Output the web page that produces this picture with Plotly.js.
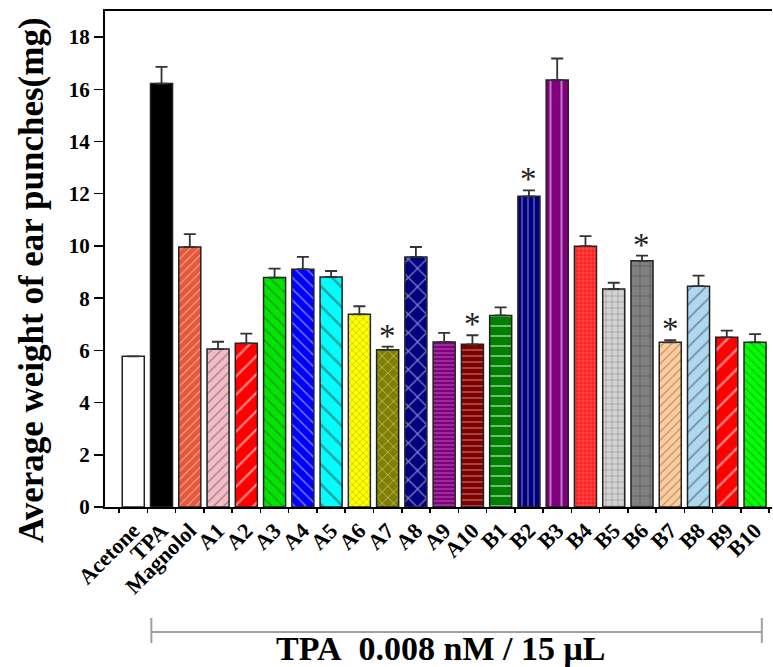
<!DOCTYPE html>
<html>
<head>
<meta charset="utf-8">
<script src="https://cdn.plot.ly/plotly-3.0.1.min.js"></script>
<style>html,body{margin:0;padding:0;background:#fff;}#chart{width:773px;height:667px;}</style>
</head>
<body>
<div id="chart"></div>
<script>
// ---- data ----
const categories = ["Acetone","TPA","Magnolol","A1","A2","A3","A4","A5","A6","A7","A8","A9","A10","B1","B2","B3","B4","B5","B6","B7","B8","B9","B10"];
const means = [5.77,16.22,9.96,6.05,6.27,8.79,9.11,8.81,7.38,6.02,9.58,6.32,6.23,7.34,11.90,16.36,9.99,8.35,9.43,6.31,8.46,6.50,6.31];
const errors = [0,0.64,0.49,0.28,0.37,0.34,0.47,0.23,0.31,0.12,0.38,0.35,0.35,0.31,0.23,0.82,0.39,0.24,0.20,0.08,0.40,0.26,0.31];
const significant = ["A7","A10","B2","B6","B7"];
const yTicks = [0,2,4,6,8,10,12,14,16,18];

// ---- styles ----
const fillColors = ["#ffffff","#000000","#e5583b","#f3bcc7","#ff0000","#00e600","#0000ff","#00ffff","#ffff00","#808000","#000080","#800080","#800000","#008000","#000080","#800080","#ff2020","#d3d3d3","#808080","#ffcc99","#acd8f0","#ff0000","#00ff00"];
const patShapes = ["","","/","/","/","\\","\\","\\","x","x","x","-","-","-","|","|","+","+","+","/","/","/","\\"];
const patSizes  = [8,8,6,7,13,8,8,14,5,8,13,4,6,10,6,11,4,6,10,6,10,14,6];
const patFg = ["#000","#000","#5a1a10","#777","#400000","#004000","#000040","#1a5a5a","#555500","#2a2a00","#000030","#3a003a","#3a0000","#003000","#000020","#300030","#500000","#555","#333","#8a6a50","#4a6a80","#400000","#005000"];

const FONT = "Liberation Serif, Times New Roman, serif";

const trace = {
  type: "bar",
  x: categories,
  y: means,
  width: 0.78,
  marker: {
    color: fillColors,
    line: {color: "#222", width: 1.5},
    pattern: {shape: patShapes, size: patSizes, fgcolor: patFg, solidity: 0.18, fillmode: "overlay"}
  },
  error_y: {type: "data", array: errors, symmetric: false, arrayminus: errors.map(()=>0), visible: true, color: "#333", thickness: 1.8, width: 6},
  hoverinfo: "x+y"
};

const annotations = significant.map(c => {
  const i = categories.indexOf(c);
  return {x: c, y: means[i] + errors[i], xref: "x", yref: "y", text: "*", showarrow: false,
    yanchor: "bottom", yshift: -9, font: {family: FONT, size: 33, color: "#222"}};
});

annotations.push({
  xref: "paper", yref: "paper", x: -0.1094, y: 0.4577, textangle: -90, showarrow: false,
  text: "<b>Average weight of ear punches(mg)</b>", xanchor: "center", yanchor: "middle",
  font: {family: FONT, size: 35, color: "#000"}
});
annotations.push({
  xref: "paper", yref: "paper", x: 0.503, y: -0.286, showarrow: false,
  text: "<b>TPA\u00a0\u00a00.008 nM / 15 μL</b>", xanchor: "center", yanchor: "middle",
  font: {family: FONT, size: 34, color: "#000"}
});

const bracketColor = "#a0a0a0";
const shapes = [
  {type: "line", xref: "x", yref: "paper", x0: 0.64, x1: 22.24, y0: -0.252, y1: -0.252, line: {color: bracketColor, width: 2}},
  {type: "line", xref: "x", yref: "paper", x0: 0.64, x1: 0.64, y0: -0.2238, y1: -0.2742, line: {color: bracketColor, width: 2}},
  {type: "line", xref: "x", yref: "paper", x0: 22.24, x1: 22.24, y0: -0.2238, y1: -0.2742, line: {color: bracketColor, width: 2}}
];

const layout = {
  width: 773, height: 667,
  margin: {l: 105, r: 1, t: 11, b: 160},
  paper_bgcolor: "#fff", plot_bgcolor: "#fff",
  showlegend: false,
  font: {family: FONT, color: "#000"},
  xaxis: {
    type: "category", range: [-1, 22.6],
    showline: true, linecolor: "#000", linewidth: 2, mirror: true,
    ticks: "outside", tickson: "boundaries", ticklen: 4, tickwidth: 1.5, tickcolor: "#000",
    tickangle: -45, tickfont: {family: FONT, size: 22, color: "#000", weight: "bold"},
    showgrid: false, zeroline: false, fixedrange: true
  },
  yaxis: {
    range: [0, 19], tickvals: yTicks, ticktext: yTicks.map(String),
    showline: true, linecolor: "#000", linewidth: 2,
    ticks: "outside", ticklen: 9, tickwidth: 1.5, tickcolor: "#000",
    tickfont: {family: FONT, size: 21, color: "#000", weight: "bold"},
    showgrid: false, zeroline: false, fixedrange: true
  },
  annotations: annotations,
  shapes: shapes,
  bargap: 0.2
};

Plotly.newPlot("chart", [trace], layout, {displayModeBar: false, staticPlot: true});
</script>
</body>
</html>
